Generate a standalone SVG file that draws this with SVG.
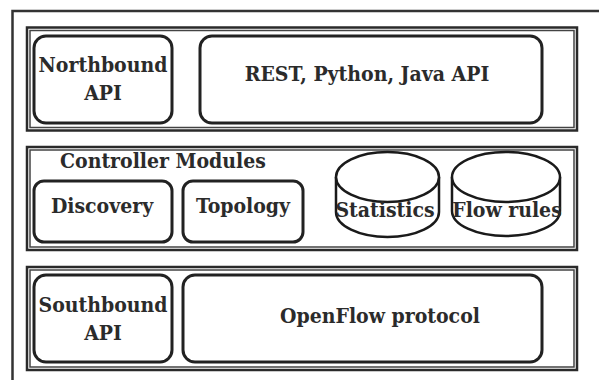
<svg xmlns="http://www.w3.org/2000/svg" width="599" height="380" viewBox="0 0 599 380">
<style>
.frame{fill:none;stroke:#333;stroke-width:2.5}
.layer{fill:none;stroke:#2a2a2a;stroke-width:2.5}
.layer-in{fill:none;stroke:#444;stroke-width:1.5}
.box{fill:#fff;stroke:#222;stroke-width:3}
.cyl{fill:#fff;stroke:#1a1a1a;stroke-width:2.5}
.t{font-family:'DejaVu Serif Condensed','DejaVu Serif',serif;font-stretch:condensed;font-weight:bold;font-size:21px;fill:#2b2b2b}
.c{text-anchor:middle}
</style>
<rect width="599" height="380" fill="#fff"/>
<path class="frame" d="M12.5 380 V11 H599"/>
<g id="layer-north">
<rect class="layer" x="27" y="27.5" width="550" height="103"/>
<rect class="layer-in" x="30" y="30.5" width="544" height="97"/>
</g>
<g id="layer-controller">
<rect class="layer" x="27" y="147" width="550" height="103"/>
<rect class="layer-in" x="30" y="150" width="544" height="97"/>
</g>
<g id="layer-south">
<rect class="layer" x="27" y="267" width="550" height="103"/>
<rect class="layer-in" x="30" y="270" width="544" height="97"/>
</g>
<g id="northbound">
<rect class="box" x="34" y="36" width="138" height="87" rx="12"/>
<text class="t c" x="103" y="72">Northbound</text>
<text class="t c" x="103" y="100">API</text>
</g>
<g id="rest">
<rect class="box" x="200" y="36" width="342" height="87" rx="12"/>
<text class="t c" x="367" y="81">REST, Python, Java API</text>
</g>
<g id="controller-label">
<text class="t" x="60" y="168">Controller Modules</text>
</g>
<g id="discovery">
<rect class="box" x="34" y="181" width="138" height="61" rx="10"/>
<text class="t c" x="102" y="213">Discovery</text>
</g>
<g id="topology">
<rect class="box" x="183" y="181" width="120" height="61" rx="10"/>
<text class="t c" x="243" y="213">Topology</text>
</g>
<g id="statistics">
<path class="cyl" d="M336 177 V212 A51.5 25 0 0 0 439 212 V177"/>
<ellipse class="cyl" cx="387.5" cy="177" rx="51.5" ry="25"/>
<text class="t c" x="385" y="217">Statistics</text>
</g>
<g id="flowrules">
<path class="cyl" d="M452 177 V211 A54 25 0 0 0 560 211 V177"/>
<ellipse class="cyl" cx="506" cy="177" rx="54" ry="25"/>
<text class="t c" x="507" y="217">Flow rules</text>
</g>
<g id="southbound">
<rect class="box" x="34" y="275" width="138" height="87" rx="12"/>
<text class="t c" x="103" y="312">Southbound</text>
<text class="t c" x="103" y="340">API</text>
</g>
<g id="openflow">
<rect class="box" x="183" y="275" width="359" height="87" rx="12"/>
<text class="t c" x="380" y="323">OpenFlow protocol</text>
</g>
<g id="connectors"></g>
</svg>
